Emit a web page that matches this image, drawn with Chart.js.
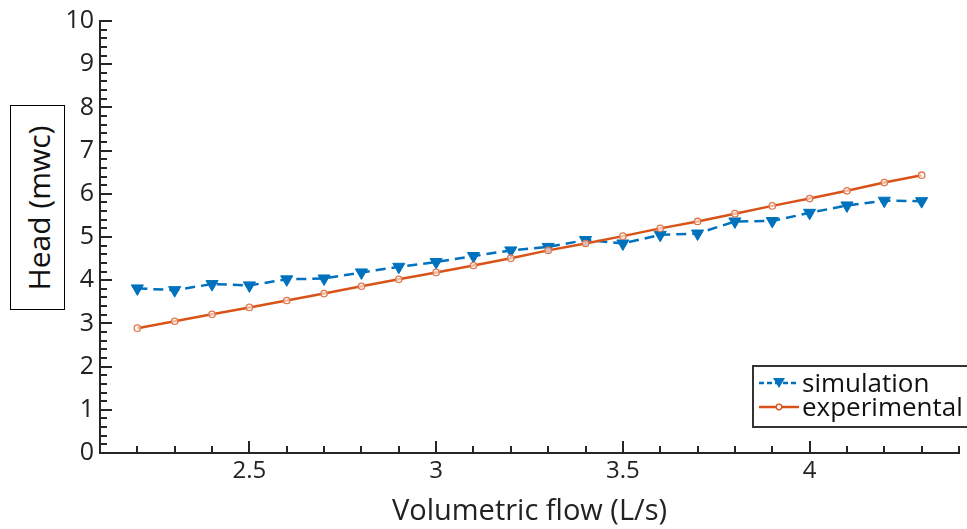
<!DOCTYPE html>
<html><head><meta charset="utf-8">
<script src="https://cdn.jsdelivr.net/npm/chart.js@4.4.1/dist/chart.umd.min.js"></script>
<style>
html,body{margin:0;padding:0;background:#fff;}
#wrap{position:relative;width:967px;height:529px;overflow:hidden;}
#c{position:absolute;left:0;top:0;}
#ylab{position:absolute;left:10px;top:105px;width:53px;height:203px;border:1.5px solid #000;background:#fff;}
#ylab span{position:absolute;left:50%;top:50%;transform:translate(-50%,-50%) rotate(-90deg);white-space:nowrap;font:30px 'Open Sans';color:#111;}
#legend{position:absolute;left:752px;top:365px;width:213px;height:59px;border:2px solid #333;background:#fff;font:26px 'Open Sans';color:#111;}
#legend svg{position:absolute;left:0;top:0;}
#legend .t{position:absolute;left:48px;white-space:nowrap;line-height:26px;}
</style></head>
<body>
<div id="wrap">
<canvas id="c" width="967" height="529"></canvas>
<div id="ylab"><span>Head (mwc)</span></div>
<div id="legend">
<svg width="50" height="59">
<line x1="5" y1="16" x2="45" y2="16" stroke="#0072BD" stroke-width="2.5" stroke-dasharray="5,3"/>
<polygon points="19,11 31,11 25,21" fill="#0072BD"/>
<line x1="5" y1="40" x2="45" y2="40" stroke="#D95319" stroke-width="2.5"/>
<circle cx="25" cy="40" r="2.8" fill="#fff" stroke="#D95319" stroke-width="1.3"/>
</svg>
<div class="t" style="top:2px">simulation</div>
<div class="t" style="top:26px">experimental</div>
</div>
</div>
<script>
const flow = [2.2,2.3,2.4,2.5,2.6,2.7,2.8,2.9,3.0,3.1,3.2,3.3,3.4,3.5,3.6,3.7,3.8,3.9,4.0,4.1,4.2,4.3];
const simulation = [3.81,3.77,3.91,3.88,4.02,4.04,4.18,4.31,4.42,4.56,4.69,4.77,4.93,4.85,5.05,5.08,5.36,5.37,5.56,5.73,5.84,5.83];
const experimental = [2.89,3.05,3.21,3.37,3.53,3.69,3.86,4.02,4.18,4.34,4.51,4.69,4.85,5.02,5.2,5.36,5.54,5.72,5.89,6.07,6.26,6.43];
const xTickLabels = [2.5,3,3.5,4];
const yTickLabels = [0,1,2,3,4,5,6,7,8,9,10];
const seriesNames = ['simulation','experimental'];

const AXIS = '#262626';
const innerTicks = {
  id:'innerTicks',
  afterDraw(chart){
    const {ctx, chartArea:a, scales:{x,y}} = chart;
    ctx.save();
    ctx.strokeStyle = AXIS; ctx.lineWidth = 2;
    ctx.beginPath();
    for(let i=21;i<=44;i++){
      const v=i/10, px=Math.round(x.getPixelForValue(v));
      const len = (i%5===0)?12:7;
      ctx.moveTo(px,a.bottom); ctx.lineTo(px,a.bottom-len);
    }
    for(let i=0;i<=50;i++){
      const v=i/5, py=Math.round(y.getPixelForValue(v));
      const len = (i%5===0)?12:7;
      ctx.moveTo(a.left,py); ctx.lineTo(a.left+len,py);
    }
    ctx.stroke();
    ctx.restore();
  }
};

new Chart(document.getElementById('c'),{
  type:'line',
  data:{datasets:[
    {label:seriesNames[0], data:flow.map((f,i)=>({x:f,y:simulation[i]})),
     borderColor:'#0072BD', backgroundColor:'#0072BD', borderWidth:2.5, borderDash:[10,6],
     pointStyle:'triangle', rotation:180, pointRadius:7, pointBackgroundColor:'#0072BD',
     pointBorderColor:'#0072BD', pointBorderWidth:1, order:1, tension:0},
    {label:seriesNames[1], data:flow.map((f,i)=>({x:f,y:experimental[i]})),
     borderColor:'#D95319', backgroundColor:'#fff', borderWidth:2.5,
     pointStyle:'circle', pointRadius:3.2, pointBackgroundColor:'rgba(255,255,255,0.6)',
     pointBorderColor:'#E0764A', pointBorderWidth:1.3, order:0, tension:0}
  ]},
  options:{
    responsive:false, animation:false,
    layout:{padding:{top:20,right:4,left:0,bottom:0}},
    plugins:{legend:{display:false}, tooltip:{enabled:false}},
    scales:{
      x:{type:'linear', min:2.1, max:4.4,
         afterBuildTicks(s){ s.ticks = xTickLabels.map(v=>({value:v})); },
         afterFit(s){ s.height = 76; },
         grid:{display:true, drawOnChartArea:false, drawTicks:false},
         border:{display:true, color:AXIS, width:2},
         ticks:{padding:4, color:'#222', font:{family:'Open Sans', size:24}, maxRotation:0,
                callback:(v)=>String(v)},
         title:{display:true, text:'Volumetric flow (L/s)', color:'#222',
                font:{family:'Open Sans', size:29}, padding:{top:0,bottom:0}}
      },
      y:{type:'linear', min:0, max:10,
         afterBuildTicks(s){ s.ticks = yTickLabels.map(v=>({value:v})); },
         afterFit(s){ s.width = 100; },
         grid:{display:true, drawOnChartArea:false, drawTicks:false},
         border:{display:true, color:AXIS, width:2},
         ticks:{padding:6, color:'#222', font:{family:'Open Sans', size:25}}
      }
    }
  },
  plugins:[innerTicks]
});
</script>
</body></html>
